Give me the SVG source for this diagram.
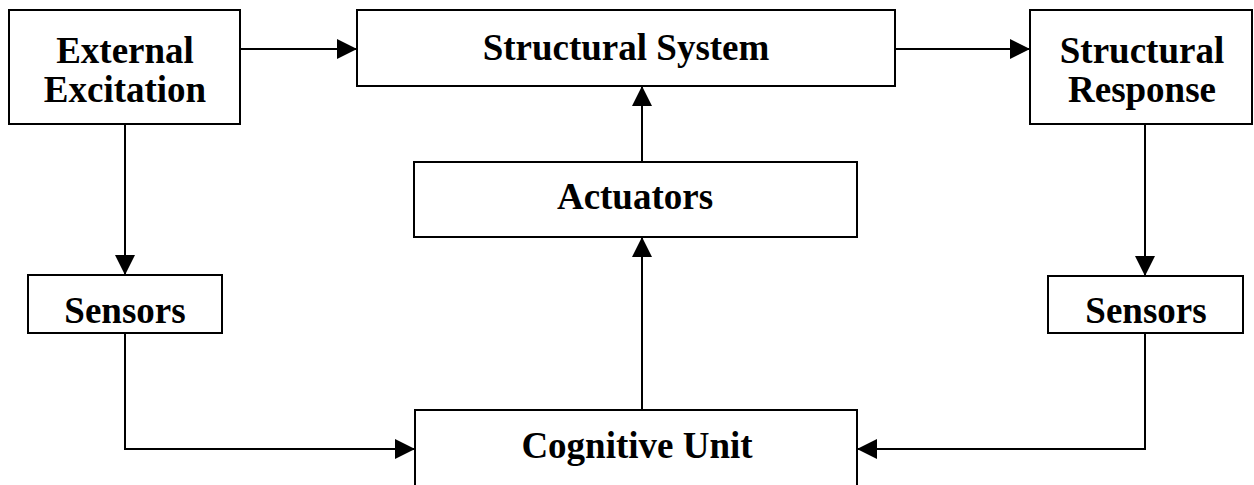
<svg xmlns="http://www.w3.org/2000/svg" width="1254" height="485" viewBox="0 0 1254 485">
  <style>
    .box { fill: #ffffff; stroke: #000000; stroke-width: 2; }
    .lbl { font-family: "Liberation Serif", "Times New Roman", serif; font-weight: bold; font-size: 37px; fill: #000000; text-anchor: middle; }
    .wire { fill: none; stroke: #000000; stroke-width: 2; }
  </style>
  <defs>
    <marker id="arrow" viewBox="0 0 20 20" refX="20" refY="10" markerWidth="20" markerHeight="20" markerUnits="userSpaceOnUse" orient="auto">
      <path d="M0,0 L20,10 L0,20 Z" fill="#000000"/>
    </marker>
  </defs>
  <rect width="1254" height="485" fill="#ffffff"/>

  <g id="external-excitation">
    <rect class="box" x="9" y="10" width="231" height="114"/>
    <text class="lbl" x="125" y="63">External</text>
    <text class="lbl" x="125" y="102">Excitation</text>
  </g>

  <g id="structural-system">
    <rect class="box" x="357" y="10" width="538" height="76"/>
    <text class="lbl" x="626" y="60">Structural System</text>
  </g>

  <g id="structural-response">
    <rect class="box" x="1030" y="10" width="222" height="114"/>
    <text class="lbl" x="1142" y="63">Structural</text>
    <text class="lbl" x="1142" y="102">Response</text>
  </g>

  <g id="actuators">
    <rect class="box" x="414" y="162" width="443" height="75"/>
    <text class="lbl" x="635" y="209">Actuators</text>
  </g>

  <g id="sensors-left">
    <rect class="box" x="28" y="275" width="194" height="58"/>
    <text class="lbl" x="125" y="323">Sensors</text>
  </g>

  <g id="sensors-right">
    <rect class="box" x="1048" y="276" width="195" height="57"/>
    <text class="lbl" x="1146" y="323">Sensors</text>
  </g>

  <g id="cognitive-unit">
    <rect class="box" x="415" y="410" width="442" height="90"/>
    <text class="lbl" x="637" y="458">Cognitive Unit</text>
  </g>

  <g id="connectors">
    <line class="wire" x1="240" y1="49" x2="357" y2="49" marker-end="url(#arrow)"/>
    <line class="wire" x1="895" y1="49" x2="1030" y2="49" marker-end="url(#arrow)"/>
    <line class="wire" x1="125" y1="124" x2="125" y2="275" marker-end="url(#arrow)"/>
    <line class="wire" x1="1145" y1="124" x2="1145" y2="276" marker-end="url(#arrow)"/>
    <line class="wire" x1="642" y1="162" x2="642" y2="86" marker-end="url(#arrow)"/>
    <line class="wire" x1="642" y1="410" x2="642" y2="237" marker-end="url(#arrow)"/>
    <polyline class="wire" points="125,333 125,449 415,449" marker-end="url(#arrow)"/>
    <polyline class="wire" points="1145,333 1145,449 857,449" marker-end="url(#arrow)"/>
  </g>
</svg>
